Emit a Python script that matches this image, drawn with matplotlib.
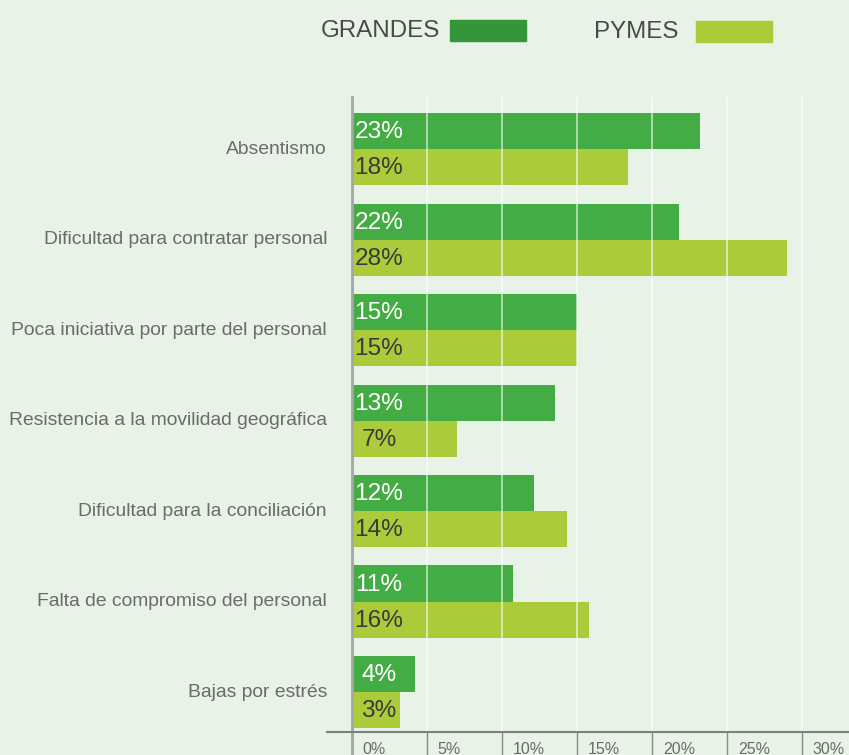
import matplotlib
matplotlib.use("Agg")
import matplotlib.pyplot as plt
from matplotlib.patches import Rectangle
from matplotlib.lines import Line2D
from matplotlib.transforms import blended_transform_factory

plt.rcParams['font.family'] = ['Liberation Sans', 'DejaVu Sans']

categories = [
    "Absentismo",
    "Dificultad para contratar personal",
    "Poca iniciativa por parte del personal",
    "Resistencia a la movilidad geográfica",
    "Dificultad para la conciliación",
    "Falta de compromiso del personal",
    "Bajas por estrés",
]
grandes = [23.2, 21.8, 15.0, 13.5, 12.1, 10.7, 4.2]
pymes = [18.4, 29.0, 15.0, 7.0, 14.3, 15.8, 3.2]
grandes_labels = ["23%", "22%", "15%", "13%", "12%", "11%", "4%"]
pymes_labels = ["18%", "28%", "15%", "7%", "14%", "16%", "3%"]
xticks = [0, 5, 10, 15, 20, 25, 30]
xtick_labels = ["0%", "5%", "10%", "15%", "20%", "25%", "30%"]
series_names = ["GRANDES", "PYMES"]

BG = "#e8f2e6"
C_GR = "#44ac44"
C_PY = "#abcb3a"
C_GR_LEG = "#339639"

W, H = 849, 755
fig = plt.figure(figsize=(W / 100, H / 100), dpi=100, facecolor=BG)

def fx(px):
    return px / W

def fy(py):
    return 1 - py / H

ax = fig.add_axes([fx(352), fy(732), (849 - 352) / W, (732 - 97) / H])
ax.set_facecolor(BG)
ax.set_xlim(0, (849 - 352) / 15)
ax.set_ylim(6.442, -0.575)

h = 0.398
ys = list(range(len(categories)))
ax.barh([y - h / 2 for y in ys], grandes, height=h, color=C_GR, zorder=2)
ax.barh([y + h / 2 for y in ys], pymes, height=h, color=C_PY, zorder=2)

for t in xticks[1:]:
    ax.axvline(t, color="white", lw=1.3, alpha=0.6, zorder=3)

for y, lg, lp in zip(ys, grandes_labels, pymes_labels):
    ax.annotate(lg, xy=(0, y - h / 2), xytext=(19.4, -0.8), textcoords="offset points",
                ha="center", va="center", fontsize=17.6, color="white", zorder=4)
    ax.annotate(lp, xy=(0, y + h / 2), xytext=(19.4, -0.8), textcoords="offset points",
                ha="center", va="center", fontsize=17.6, color="#3a3a3a", zorder=4)

for y, c in zip(ys, categories):
    ax.annotate(c, xy=(0, y), xytext=(-18, 0), textcoords="offset points",
                ha="right", va="center", fontsize=13.9, color="#6b6b6b")

for s in ax.spines.values():
    s.set_visible(False)
ax.set_xticks([])
ax.set_yticks([])

# axis lines
trans = blended_transform_factory(ax.transData, fig.transFigure)
fig.add_artist(Line2D([fx(327), 1], [fy(732), fy(732)], transform=fig.transFigure,
                      color="#7f7f7f", lw=1.5, zorder=5))
for t, lab in zip(xticks, xtick_labels):
    ax.plot([t, t], [fy(732), 0], transform=trans, color="#8a8a8a", lw=1.0,
            clip_on=False, zorder=5)
    ax.annotate(lab, xy=(t, fy(742)), xycoords=trans, xytext=(7.8, 0),
                textcoords="offset points", ha="left", va="top",
                fontsize=11.5, color="#6b6b6b", annotation_clip=False)
ax.plot([0, 0], [fy(97), 0], transform=trans, color="#a6a6a6", lw=2.0,
        clip_on=False, zorder=6)

# legend
fig.text(fx(440), fy(31), series_names[0], ha="right", va="center", fontsize=17.4, color="#4a4a4a")
fig.add_artist(Rectangle((fx(450), fy(41)), 76 / W, 21 / H, transform=fig.transFigure,
                         color=C_GR_LEG))
fig.text(fx(679), fy(32), series_names[1], ha="right", va="center", fontsize=17.4, color="#4a4a4a")
fig.add_artist(Rectangle((fx(696), fy(42)), 76 / W, 21 / H, transform=fig.transFigure,
                         color=C_PY))

fig.savefig("out.png", dpi=100, facecolor=BG)
